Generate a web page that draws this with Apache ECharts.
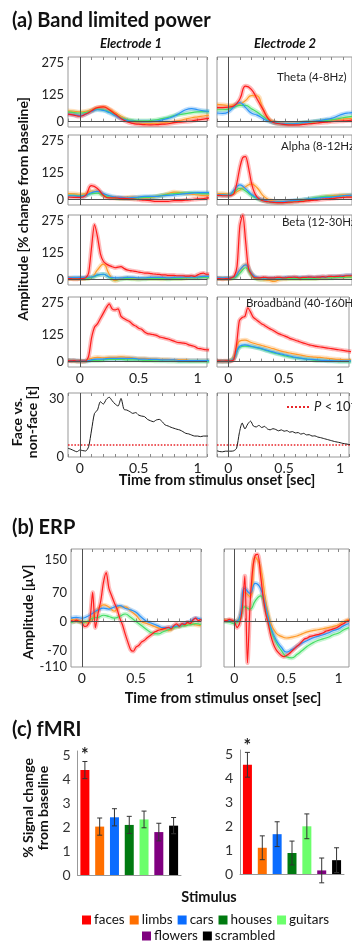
<!DOCTYPE html>
<html><head><meta charset="utf-8">
<script src="https://cdn.jsdelivr.net/npm/echarts@6/dist/echarts.min.js"></script>
<style>html,body{margin:0;padding:0;background:#fff}#c{width:352px;height:943px}</style>
</head><body><div id="c"></div><script>
// ---------- time bases ----------
const tA=[-0.1,-0.05,0,0.05,0.1,0.15,0.2,0.25,0.3,0.35,0.4,0.45,0.5,0.55,0.6,0.65,0.7,0.75,0.8,0.85,0.9,0.95,1,1.05,1.1];
const tB=[-0.1,-0.075,-0.05,-0.025,0,0.025,0.05,0.075,0.1,0.125,0.15,0.175,0.2,0.225,0.25,0.275,0.3,0.325,0.35,0.375,0.4,0.425,0.45,0.475,0.5,0.525,0.55,0.575,0.6,0.625,0.65,0.675,0.7,0.725,0.75,0.775,0.8,0.825,0.85,0.875,0.9,0.925,0.95,0.975,1,1.025,1.05,1.075,1.1];

// ---------- band limited power (% change) ----------
const thetaE1Red=[35,30,25,35,50,65,68,55,35,15,0,-8,-12,-14,-15,-14,-12,-10,-5,-2,0,3,8,12,15];
const thetaE1Orange=[50,48,45,48,55,65,68,58,42,25,10,0,-5,-8,-8,-8,-6,-3,0,5,12,18,22,26,30];
const thetaE1Green=[45,42,40,42,50,58,55,45,32,18,10,6,4,4,5,8,14,20,28,33,37,42,45,46,46];
const thetaE1Blue=[35,32,28,35,48,55,52,42,28,15,6,2,0,0,0,2,8,15,25,40,55,60,55,50,48];
const thetaE2Red=[65,65,67,74,105,165,150,105,59,12,-5,-10,-14,-15,-15,-13,-10,-8,-5,-3,0,2,3,5,8];
const thetaE2Orange=[80,78,76,78,82,98,121,120,60,15,-2,-8,-10,-10,-8,-5,-3,0,2,5,8,10,12,14,15];
const thetaE2Green=[55,55,58,68,75,75,60,45,25,5,-5,-8,-10,-10,-8,-5,-3,0,3,5,8,12,18,22,25];
const thetaE2Blue=[40,38,45,70,88,65,40,30,15,2,-5,-8,-10,-10,-8,-5,-2,2,5,10,15,25,35,40,42];

const alphaE1Red=[12,10,10,20,65,52,20,8,8,6,5,3,0,-3,-5,-8,-8,-8,-5,-5,-3,0,3,5,8];
const alphaE1Orange=[28,27,25,28,40,38,22,12,8,8,10,12,10,8,10,15,20,28,35,33,28,25,22,20,20];
const alphaE1Green=[20,20,18,20,28,30,20,12,8,5,5,5,8,10,12,15,20,25,28,30,30,32,30,28,28];
const alphaE1Blue=[18,18,15,20,32,38,28,18,12,10,8,10,12,15,15,15,18,20,22,25,28,30,32,32,32];
const alphaE2Red=[20,20,18,18,18,20,30,80,150,195,200,150,80,35,12,2,-5,-8,-10,-12,-13,-14,-14,-14,-13,-12,-12,-10,-10,-8,-8,-6,-5,-4,-3,-2,0,2,3,4,5,6,8,9,10,11,12,12,12];
const alphaE2Orange=[28,28,25,30,45,60,72,55,20,0,-8,-10,-10,-8,-5,-3,0,5,10,15,18,20,22,22,22];
const alphaE2Green=[22,22,20,35,52,40,20,5,-5,-10,-12,-12,-10,-8,-5,-2,2,8,12,15,15,15,18,18,18];
const alphaE2Blue=[22,22,20,45,68,50,25,8,-2,-8,-10,-10,-8,-5,-3,0,3,5,8,10,12,15,18,20,22];

const betaE1Red=[5,5,3,3,5,5,8,30,150,255,200,120,85,72,65,60,55,58,60,52,45,42,40,38,35,33,30,30,28,26,25,24,22,22,20,20,20,18,18,18,16,16,18,15,22,28,30,25,25];
const betaE1Orange=[5,5,5,5,10,45,72,25,-5,5,8,5,3,5,5,5,3,5,5,5,8,10,10,10,12];
const betaE1Green=[5,5,5,5,10,20,25,10,0,2,5,3,2,3,5,5,5,3,5,5,8,8,8,10,10];
const betaE1Blue=[8,10,10,10,12,22,25,12,8,8,10,10,8,8,10,10,10,8,10,12,12,12,12,15,15];
const betaE2Red=[5,5,3,5,5,8,15,60,250,300,180,50,25,10,8,8,10,10,8,8,8,10,10,8,8,10,10,12,10,8,10,10,12,12,10,12,12,14,12,15,15,14,15,16,15,18,18,18,18];
const betaE2Orange=[5,5,5,10,40,70,30,5,0,-3,-8,0,3,5,5,5,5,5,8,8,10,10,12,15,15];
const betaE2Green=[5,5,5,8,30,55,20,3,2,3,3,5,5,5,5,5,5,5,8,8,8,10,10,12,12];
const betaE2Blue=[8,8,8,12,45,68,30,10,8,8,8,8,10,10,10,10,12,10,12,12,15,15,18,20,20];

const broadE1Red=[5,3,5,2,3,2,3,25,110,160,175,200,225,250,268,245,240,245,210,200,192,185,172,165,155,150,138,130,128,125,122,115,112,108,105,100,95,90,88,86,84,78,74,70,62,60,57,55,54];
const broadE1Orange=[5,3,2,3,15,20,18,20,20,22,20,18,15,15,12,12,10,10,8,8,8,5,5,5,5];
const broadE1Green=[5,3,2,2,5,5,8,10,10,10,8,8,8,5,5,3,3,2,2,0,0,0,0,0,0];
const broadE1Blue=[5,5,3,3,8,12,12,15,15,15,15,15,12,12,10,10,8,8,8,5,5,5,5,5,5];
const broadE2Red=[3,3,2,3,3,3,10,80,190,205,210,250,230,205,195,185,175,168,160,152,146,138,130,125,120,115,108,104,99,95,90,86,82,78,75,72,70,68,66,64,62,60,58,56,54,52,50,48,46];
const broadE2Orange=[2,2,2,20,95,100,90,82,75,68,60,52,45,40,35,30,25,22,20,18,15,12,10,8,8];
const broadE2Green=[2,2,2,15,65,72,70,65,58,50,42,35,28,22,18,15,12,8,5,5,3,2,0,0,0];
const broadE2Blue=[2,2,2,15,70,78,72,66,60,52,45,38,32,26,20,16,12,10,8,6,5,4,3,3,3];

// ---------- face vs non-face t values ----------
const tvalE1=[4.5,4.0,3.3,2.7,3.6,3.3,3.1,5.3,13.9,22.5,24.2,28.5,27.3,29.7,30.8,29.0,27.3,26.3,30.2,24.6,24.2,23.4,22.5,22.9,21.6,21.1,20.8,19.4,18.7,18.2,19.1,19.4,18.2,16.5,16.0,15.3,14.8,14.3,13.9,13.1,12.2,11.9,11.3,10.8,10.8,10.5,10.8,10.8,10.8];
const tvalE2=[3.2,2.8,2.7,3.0,3.0,3.0,3.2,4.5,12.5,17.5,14.5,17.0,18.5,16.0,15.5,16.3,15.2,15.8,14.5,14.0,14.6,14.2,13.5,14.0,13.3,13.6,12.8,13.1,12.4,12.6,11.8,12.2,11.4,11.5,10.8,10.9,10.3,10.0,9.6,9.2,8.8,8.4,8.0,7.7,7.4,7.0,6.8,6.5,6.3];
const tThreshold=6.2;
const thrT=[-0.1,1.1];

// ---------- ERP (uV) ----------
const erpE1Red=[2,0,3,0,-2,-12,-10,5,70,-15,20,50,95,118,80,62,45,30,8,-8,-30,-50,-68,-72,-62,-58,-50,-46,-40,-35,-30,-25,-22,-20,-18,-16,-14,-18,-10,-6,-12,-5,-8,-2,-5,3,8,2,5];
const erpE1Orange=[5,3,0,-3,10,30,40,35,25,35,35,25,15,0,-5,-10,-15,-18,-22,-15,-10,-8,-5,-8,-10];
const erpE1Green=[-3,0,-2,0,8,10,15,12,8,12,18,10,0,-10,-20,-28,-30,-25,-20,-15,-12,-10,-8,-5,-8];
const erpE1Blue=[8,10,8,12,20,28,32,30,35,38,32,28,22,10,0,-5,-10,-15,-15,-12,-10,-5,0,8,5];
const erpE2Red=[3,2,5,3,0,-15,-5,30,110,-100,40,125,160,162,115,60,20,-5,-35,-55,-68,-76,-82,-85,-82,-78,-72,-66,-60,-55,-48,-42,-40,-36,-35,-33,-32,-30,-28,-24,-22,-20,-18,-16,-12,-8,-5,0,3];
const erpE2Orange=[3,3,0,10,70,60,155,130,50,-5,-28,-36,-40,-38,-35,-30,-25,-22,-20,-18,-15,-12,-8,0,5];
const erpE2Green=[0,-2,-5,5,35,30,50,62,30,-20,-50,-70,-85,-88,-80,-70,-60,-52,-46,-42,-38,-32,-28,-20,-15];
const erpE2Blue=[2,2,0,10,80,68,92,80,35,-15,-45,-62,-74,-68,-60,-52,-46,-40,-36,-32,-28,-22,-18,-10,-5];

// ---------- fMRI ----------
const stimuli=['faces','limbs','cars','houses','guitars','flowers','scrambled'];
const fmriE1Mean=[4.4,2.03,2.42,2.1,2.33,1.8,2.07];
const fmriE1Sem=[0.36,0.36,0.36,0.36,0.35,0.37,0.34];
const fmriE2Mean=[4.58,1.1,1.67,0.88,2.0,0.15,0.58];
const fmriE2Sem=[0.52,0.5,0.52,0.5,0.52,0.52,0.52];
const fmriSig=[1,0,0,0,0,0,0];

// ---------- tick labels ----------
const bandYLabels=[0,125,275];
const tYLabels=[0,30];
const erpYLabels=[150,70,0,-70,-110];
const timeXLabels=[0,0.5,1];

// ================= build =================
const FONT='Lato';
const C={red:'#ff1c1c',orange:'#ff9a2a',green:'#44de66',blue:'#2a93f6'};
const stimColors=['#ff0000','#ff6f00','#0a6cff','#007a10','#6cff6c','#800080','#000000'];
const grids=[],xAxes=[],yAxes=[],series=[];

function timeGrid(o){
  const gi=grids.length;
  grids.push({left:o.left,top:o.top,width:o.width,height:o.height,show:true,borderColor:'#999',borderWidth:1});
  const xi=xAxes.length;
  xAxes.push({gridIndex:gi,type:'value',position:'bottom',min:o.xmin,max:o.xmax,interval:0.1,
    axisLine:{show:false},splitLine:{show:false},
    axisTick:{show:true,inside:true,length:3,lineStyle:{color:'#888'}},
    axisLabel:{show:!!o.xLab,margin:4,fontSize:14,fontFamily:FONT,color:'#222',
      formatter:v=>{const r=Math.round(v*100)/100;return timeXLabels.includes(r)?String(r):'';}}});
  // mirrored tick marks along the top edge
  xAxes.push({gridIndex:gi,type:'value',position:'top',min:o.xmin,max:o.xmax,interval:0.1,
    axisLine:{show:false},splitLine:{show:false},axisLabel:{show:false},
    axisTick:{show:true,inside:true,length:3,lineStyle:{color:'#888'}}});
  const yi=yAxes.length;
  yAxes.push({gridIndex:gi,type:'value',min:o.ymin,max:o.ymax,interval:o.yint,
    axisLine:{show:false},splitLine:{show:false},axisTick:{show:false},
    axisLabel:{show:!!o.yLab,margin:4,fontSize:13,fontFamily:FONT,color:'#222',
      formatter:v=>{const r=Math.round(v);return (Math.abs(v-r)<1e-6&&o.yVals.includes(r))?String(r):'';}}});
  return {xi,yi};
}
function curves(ax,list,zeroH){
  list.forEach(([t,v,c],k)=>{
    const d=t.map((x,i)=>[x,v[i]]);
    const sm=t.length>30?0.25:0.5;
    const band={type:'line',xAxisIndex:ax.xi,yAxisIndex:ax.yi,data:d,symbol:'none',smooth:sm,silent:true,animation:false,z:2,
      lineStyle:{width:4.5,color:c,opacity:0.3}};
    if(k===0){band.markLine={symbol:'none',silent:true,animation:false,label:{show:false},
      lineStyle:{color:'#505050',width:1,type:'solid'},data:zeroH?[{xAxis:0},{yAxis:0}]:[{xAxis:0}]};}
    series.push(band);
    series.push({type:'line',xAxisIndex:ax.xi,yAxisIndex:ax.yi,data:d,symbol:'none',smooth:sm,silent:true,animation:false,z:3,
      lineStyle:{width:1.2,color:c}});
  });
}

const rowsTop=[57,135,215,297];
const bandSets=[
  [[tA,thetaE1Orange,C.orange],[tA,thetaE1Green,C.green],[tA,thetaE1Blue,C.blue],[tA,thetaE1Red,C.red]],
  [[tA,thetaE2Orange,C.orange],[tA,thetaE2Green,C.green],[tA,thetaE2Blue,C.blue],[tA,thetaE2Red,C.red]],
  [[tA,alphaE1Orange,C.orange],[tA,alphaE1Green,C.green],[tA,alphaE1Blue,C.blue],[tA,alphaE1Red,C.red]],
  [[tA,alphaE2Orange,C.orange],[tA,alphaE2Green,C.green],[tA,alphaE2Blue,C.blue],[tB,alphaE2Red,C.red]],
  [[tA,betaE1Orange,C.orange],[tA,betaE1Green,C.green],[tA,betaE1Blue,C.blue],[tB,betaE1Red,C.red]],
  [[tA,betaE2Orange,C.orange],[tA,betaE2Green,C.green],[tA,betaE2Blue,C.blue],[tB,betaE2Red,C.red]],
  [[tA,broadE1Orange,C.orange],[tA,broadE1Green,C.green],[tA,broadE1Blue,C.blue],[tB,broadE1Red,C.red]],
  [[tA,broadE2Orange,C.orange],[tA,broadE2Green,C.green],[tA,broadE2Blue,C.blue],[tB,broadE2Red,C.red]]
];
for(let r=0;r<4;r++){
  for(let c=0;c<2;c++){
    const ax=timeGrid({left:c?217:68,top:rowsTop[r],width:139,height:70,xmin:-0.1,xmax:1.08,
      ymin:-25,ymax:300,yint:25,yVals:bandYLabels,yLab:c===0,xLab:r===3});
    curves(ax,bandSets[r*2+c],true);
  }
}
// t-value panels
[[68,tvalE1],[217,tvalE2]].forEach(([left,tv],c)=>{
  const ax=timeGrid({left,top:393,width:139,height:64,xmin:-0.1,xmax:1.08,ymin:0,ymax:33,yint:10,yVals:tYLabels,yLab:c===0,xLab:true});
  series.push({type:'line',name:'P < 10-4',xAxisIndex:ax.xi,yAxisIndex:ax.yi,data:thrT.map(x=>[x,tThreshold]),symbol:'none',silent:true,animation:false,z:2,
    lineStyle:{color:'#e8262a',width:1.6,type:'dotted'},itemStyle:{color:'#e8262a'},
    markLine:{symbol:'none',silent:true,animation:false,label:{show:false},lineStyle:{color:'#505050',width:1,type:'solid'},data:[{xAxis:0}]}});
  series.push({type:'line',xAxisIndex:ax.xi,yAxisIndex:ax.yi,data:tB.map((x,i)=>[x,tv[i]]),symbol:'none',smooth:0.25,silent:true,animation:false,z:3,
    lineStyle:{color:'#1a1a1a',width:1}});
});
// ERP panels
[[71,[[tA,erpE1Orange,C.orange],[tA,erpE1Green,C.green],[tA,erpE1Blue,C.blue],[tB,erpE1Red,C.red]]],
 [224,[[tA,erpE2Orange,C.orange],[tA,erpE2Green,C.green],[tA,erpE2Blue,C.blue],[tB,erpE2Red,C.red]]]].forEach(([left,set],c)=>{
  const ax=timeGrid({left,top:549,width:130,height:118,xmin:-0.1,xmax:1.1,ymin:-110,ymax:175,yint:10,yVals:erpYLabels,yLab:c===0,xLab:true});
  curves(ax,set,true);
});
// fMRI panels
[[77.5,751,103.5,124,fmriE1Mean,fmriE1Sem],[240,750,104,124,fmriE2Mean,fmriE2Sem]].forEach(([left,top,width,height,mean,sem])=>{
  const gi=grids.length;
  grids.push({left,top,width,height,show:false});
  const xi=xAxes.length, yi=yAxes.length;
  xAxes.push({gridIndex:gi,type:'category',data:stimuli,axisLine:{lineStyle:{color:'#999'}},axisTick:{show:false},axisLabel:{show:false}});
  yAxes.push({gridIndex:gi,type:'value',min:0,max:5.2,interval:1,axisLine:{show:true,lineStyle:{color:'#999'}},axisTick:{show:false},splitLine:{show:false},
    axisLabel:{margin:7,fontSize:14,fontFamily:FONT,color:'#333',formatter:v=>Number.isInteger(v)?String(v):''}});
  stimuli.forEach((s,k)=>{
    series.push({type:'bar',name:s,xAxisIndex:xi,yAxisIndex:yi,data:mean.map((m,i)=>i===k?m:'-'),barWidth:9,barGap:'-100%',
      itemStyle:{color:stimColors[k]},silent:true,animation:false});
  });
  series.push({type:'custom',xAxisIndex:xi,yAxisIndex:yi,silent:true,animation:false,z:5,
    data:mean.map((m,i)=>[i,m,sem[i],fmriSig[i]]),encode:{x:0,y:1},
    renderItem:(params,api)=>{
      const x=api.value(0),m=api.value(1),e=api.value(2),sig=api.value(3);
      const top=api.coord([x,m+e]),bot=api.coord([x,m-e]);const w=2.5;
      const st={stroke:'#333',lineWidth:1};
      const ch=[
        {type:'line',shape:{x1:top[0],y1:top[1],x2:bot[0],y2:bot[1]},style:st},
        {type:'line',shape:{x1:top[0]-w,y1:top[1],x2:top[0]+w,y2:top[1]},style:st},
        {type:'line',shape:{x1:bot[0]-w,y1:bot[1],x2:bot[0]+w,y2:bot[1]},style:st}];
      if(sig){ch.push({type:'text',x:top[0],y:top[1]+3,style:{text:'*',font:'bold 18px '+FONT,fill:'#222',align:'center',verticalAlign:'bottom',textAlign:'center',textVerticalAlign:'bottom'}});}
      return {type:'group',children:ch};
    }});
});

function txt(text,x,y,font,opt){
  opt=opt||{};
  return {type:'text',x,y,rotation:opt.rot||0,silent:true,z:10,
    style:{text,font,fill:opt.fill||'#111',align:opt.align||'left',verticalAlign:'middle',textAlign:opt.align||'left',textVerticalAlign:'middle'}};
}
const R=Math.PI/2;
const graphic=[
  txt('(a) Band limited power',12,21,'bold 20px '+FONT),
  txt('Electrode 1',131,44,'italic bold 13px '+FONT,{align:'center'}),
  txt('Electrode 2',285,44,'italic bold 13px '+FONT,{align:'center'}),
  txt('Theta (4-8Hz)',277,77,'11.5px '+FONT,{fill:'#222'}),
  txt('Alpha (8-12Hz)',281,146,'11.5px '+FONT,{fill:'#222'}),
  txt('Beta (12-30Hz)',282,222,'11.5px '+FONT,{fill:'#222'}),
  txt('Broadband (40-160Hz)',246,303,'11.5px '+FONT,{fill:'#222'}),
  txt('Amplitude [% change from baseline]',23,209,'bold 14px '+FONT,{align:'center',rot:R}),
  txt('Face vs.',17,422,'bold 14px '+FONT,{align:'center',rot:R}),
  txt('non-face [t]',32,422,'bold 14px '+FONT,{align:'center',rot:R}),
  txt('Time from stimulus onset [sec]',217,480,'bold 14.5px '+FONT,{align:'center'}),
  txt('(b) ERP',12,528,'bold 20px '+FONT),
  txt('Amplitude [μV]',28,612,'bold 14px '+FONT,{align:'center',rot:R}),
  txt('Time from stimulus onset [sec]',223,698,'bold 14.5px '+FONT,{align:'center'}),
  txt('(c) fMRI',12,730,'bold 20px '+FONT),
  txt('% Signal change',28,808,'bold 14px '+FONT,{align:'center',rot:R}),
  txt('from baseline',43,808,'bold 14px '+FONT,{align:'center',rot:R}),
  txt('Stimulus',209,897,'bold 14.5px '+FONT,{align:'center'})
];

const legTxt={fontSize:13.5,fontFamily:FONT,color:'#111',padding:[0,0,0,-2]};
const option={
  animation:false,
  grid:grids,xAxis:xAxes,yAxis:yAxes,series,graphic,
  legend:[
    {data:stimuli.slice(0,5),left:82,top:913,width:270,padding:0,itemWidth:9,itemHeight:9,itemGap:5,icon:'rect',selectedMode:false,textStyle:legTxt},
    {data:stimuli.slice(5),left:142,top:929,width:200,padding:0,itemWidth:9,itemHeight:9,itemGap:5,icon:'rect',selectedMode:false,textStyle:legTxt},
    {data:['P < 10-4'],left:286,top:399,padding:0,itemWidth:22,itemHeight:10,itemGap:4,selectedMode:false,
      itemStyle:{opacity:0},
      formatter:()=>'{i|P} < 10{s|-4}',
      textStyle:{fontSize:13,fontFamily:FONT,color:'#222',rich:{i:{fontStyle:'italic',fontSize:13,fontFamily:FONT},s:{fontSize:9,fontFamily:FONT,padding:[0,0,7,0]}}}}
  ]
};
const chart=echarts.init(document.getElementById('c'),null,{renderer:'canvas'});
chart.setOption(option);
</script></body></html>
